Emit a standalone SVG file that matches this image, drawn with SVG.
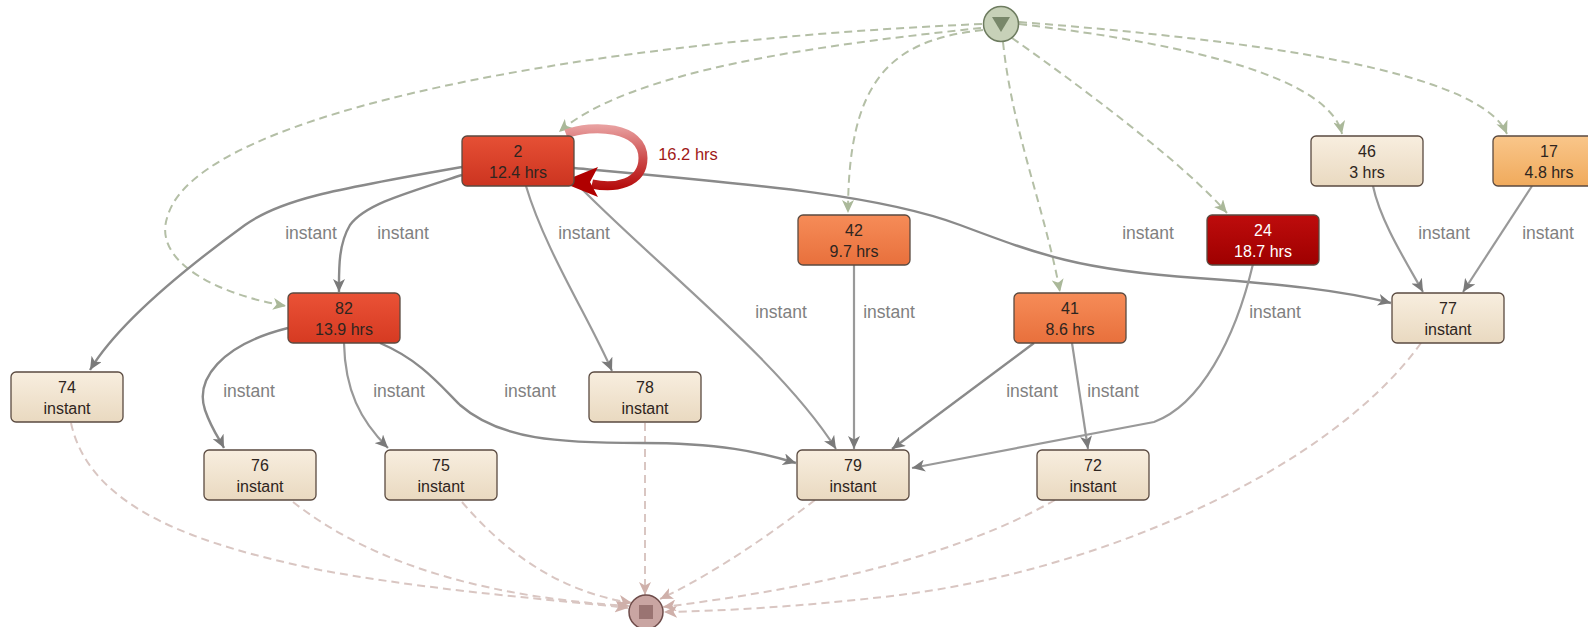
<svg xmlns="http://www.w3.org/2000/svg" width="1588" height="627" viewBox="0 0 1588 627">
<style>
.node rect{stroke:#5a4a40;stroke-width:1.3}
.node text{font-family:"Liberation Sans",Arial,sans-serif;font-size:16px;text-anchor:middle;fill:#2e2520}
.lbl{font-family:"Liberation Sans",Arial,sans-serif;font-size:17.5px;text-anchor:middle;fill:#808080}
.e{fill:none;stroke:#999;stroke-width:2.2;marker-end:url(#ag)}
.ed{fill:none;stroke:#8a8a8a;stroke-width:2.4;marker-end:url(#ag)}
.es{fill:none;stroke:#b4bfa6;stroke-width:2;stroke-dasharray:8 5;marker-end:url(#as)}
.ee{fill:none;stroke:#d9c6c2;stroke-width:2;stroke-dasharray:8 5;marker-end:url(#ae)}
</style>
<defs>
<linearGradient id="gBeige" x1="0" y1="0" x2="0" y2="1"><stop offset="0" stop-color="#f8eedf"/><stop offset="1" stop-color="#e9d9c0"/></linearGradient>
<linearGradient id="gRed" x1="0" y1="0" x2="0" y2="1"><stop offset="0" stop-color="#e65035"/><stop offset="1" stop-color="#cc3420"/></linearGradient>
<linearGradient id="gRed2" x1="0" y1="0" x2="0" y2="1"><stop offset="0" stop-color="#ea5236"/><stop offset="1" stop-color="#d63a22"/></linearGradient>
<linearGradient id="gDark" x1="0" y1="0" x2="0" y2="1"><stop offset="0" stop-color="#be0c0c"/><stop offset="1" stop-color="#9e0000"/></linearGradient>
<linearGradient id="gOr" x1="0" y1="0" x2="0" y2="1"><stop offset="0" stop-color="#f68c58"/><stop offset="1" stop-color="#e8703c"/></linearGradient>
<linearGradient id="gLo" x1="0" y1="0" x2="0" y2="1"><stop offset="0" stop-color="#f9c68a"/><stop offset="1" stop-color="#f0aa5c"/></linearGradient>
<linearGradient id="gLoop" gradientUnits="userSpaceOnUse" x1="0" y1="126" x2="0" y2="194"><stop offset="0" stop-color="#e8a0a0"/><stop offset="0.5" stop-color="#cc4848"/><stop offset="1" stop-color="#b00000"/></linearGradient>
<marker id="ag" markerUnits="userSpaceOnUse" markerWidth="14" markerHeight="12" refX="13" refY="6" orient="auto"><path d="M0,0 L13,6 L0,12 L3.5,6 z" fill="#7a7a7a"/></marker>
<marker id="as" markerUnits="userSpaceOnUse" markerWidth="14" markerHeight="12" refX="13" refY="6" orient="auto"><path d="M0,0 L13,6 L0,12 L3.5,6 z" fill="#aab899"/></marker>
<marker id="ae" markerUnits="userSpaceOnUse" markerWidth="14" markerHeight="12" refX="13" refY="6" orient="auto"><path d="M0,0 L13,6 L0,12 L3.5,6 z" fill="#cfb0aa"/></marker>
</defs>
<rect width="1588" height="627" fill="#ffffff"/>

<g id="connectors">
<!-- start edges -->
<path class="es" d="M981,28 C820,45 630,70 559,132"/>
<path class="es" d="M982,24 C600,40 200,110 168,215 C150,262 220,295 286,306"/>
<path class="es" d="M983,30 C890,40 848,80 848,213"/>
<path class="es" d="M1003,42 C1012,130 1045,210 1060,292"/>
<path class="es" d="M1012,38 C1100,100 1190,170 1227,213"/>
<path class="es" d="M1019,24 C1200,45 1330,80 1342,134"/>
<path class="es" d="M1019,22 C1250,40 1480,70 1507,134"/>
<!-- end edges -->
<path class="ee" d="M71,423 C90,510 200,545 320,570 C440,592 560,600 628,608"/>
<path class="ee" d="M293,502 C380,570 500,598 629,606"/>
<path class="ee" d="M462,502 C520,570 580,595 632,603"/>
<path class="ee" d="M645,423 L645,595"/>
<path class="ee" d="M815,500 C750,550 700,580 660,599"/>
<path class="ee" d="M1055,500 C950,560 800,590 663,607"/>
<path class="ee" d="M1421,343 C1330,470 1100,570 900,595 C800,607 720,611 664,612"/>
<!-- solid edges -->
<path class="ed" d="M462,167 C330,190 280,200 245,225 C190,265 120,320 90,370"/>
<path class="ed" d="M462,175 C400,195 365,205 350,225 C338,245 339,270 339,292"/>
<path class="e" d="M526,186 C545,250 590,320 612,371"/>
<path class="e" d="M574,181 C650,260 780,360 836,449"/>
<path class="ed" d="M574,168 C760,185 880,195 960,225 C1040,255 1080,270 1197,278 C1280,284 1340,290 1391,303"/>
<path class="e" d="M854,264 L854,449"/>
<path class="ed" d="M1034,343 L892,449"/>
<path class="e" d="M1072,343 L1088,449"/>
<path class="e" d="M1253,264 C1235,340 1200,405 1154,422 L912,468"/>
<path class="ed" d="M288,328 C220,345 195,380 205,410 C212,430 220,440 224,448"/>
<path class="e" d="M344,343 C345,390 360,420 388,448"/>
<path class="ed" d="M380,343 C420,360 440,385 460,405 C500,440 560,443 640,443 C720,443 760,452 796,463"/>
<path class="e" d="M1373,186 C1380,220 1405,260 1423,292"/>
<path class="e" d="M1532,186 L1463,292"/>
<!-- self loop on 2 -->
<path d="M566,134 C592,124 643,126 643,158 C643,184 614,189 592,184" fill="none" stroke="url(#gLoop)" stroke-width="9"/>
<path d="M561,182 L598,167 L590,182 L598,197 z" fill="#b00000"/>
<!-- labels -->
<text class="lbl" x="311" y="239">instant</text>
<text class="lbl" x="403" y="239">instant</text>
<text class="lbl" x="584" y="239">instant</text>
<text class="lbl" x="781" y="318">instant</text>
<text class="lbl" x="889" y="318">instant</text>
<text class="lbl" x="1148" y="239">instant</text>
<text class="lbl" x="1275" y="318">instant</text>
<text class="lbl" x="1444" y="239">instant</text>
<text class="lbl" x="1548" y="239">instant</text>
<text class="lbl" x="249" y="397">instant</text>
<text class="lbl" x="399" y="397">instant</text>
<text class="lbl" x="530" y="397">instant</text>
<text class="lbl" x="1032" y="397">instant</text>
<text class="lbl" x="1113" y="397">instant</text>
<text x="688" y="160" style="font-family:'Liberation Sans',Arial,sans-serif;font-size:16.5px;text-anchor:middle;fill:#a01818">16.2 hrs</text>
</g>

<g id="start"><circle cx="1001" cy="24" r="17.5" fill="#c7d1b8" stroke="#6e7c60" stroke-width="1.5"/><path d="M992,17 L1010,17 L1001,32 z" fill="#78876a"/></g>
<g id="end"><circle cx="646" cy="612" r="17" fill="#c9a5a2" stroke="#6e4c4a" stroke-width="1.5"/><rect x="639" y="605" width="14" height="14" fill="#9a7472"/></g>

<g id="n2" class="node"><rect x="462" y="136" width="112" height="50" rx="5" fill="url(#gRed)"/><text x="518" y="157">2</text><text x="518" y="178">12.4 hrs</text></g>
<g id="n46" class="node"><rect x="1311" y="136" width="112" height="50" rx="5" fill="url(#gBeige)"/><text x="1367" y="157">46</text><text x="1367" y="178">3 hrs</text></g>
<g id="n17" class="node"><rect x="1493" y="136" width="112" height="50" rx="5" fill="url(#gLo)"/><text x="1549" y="157">17</text><text x="1549" y="178">4.8 hrs</text></g>
<g id="n42" class="node"><rect x="798" y="215" width="112" height="50" rx="5" fill="url(#gOr)"/><text x="854" y="236">42</text><text x="854" y="257">9.7 hrs</text></g>
<g id="n24" class="node"><rect x="1207" y="215" width="112" height="50" rx="5" fill="url(#gDark)"/><text x="1263" y="236" style="fill:#ffffff">24</text><text x="1263" y="257" style="fill:#ffffff">18.7 hrs</text></g>
<g id="n82" class="node"><rect x="288" y="293" width="112" height="50" rx="5" fill="url(#gRed2)"/><text x="344" y="314">82</text><text x="344" y="335">13.9 hrs</text></g>
<g id="n41" class="node"><rect x="1014" y="293" width="112" height="50" rx="5" fill="url(#gOr)"/><text x="1070" y="314">41</text><text x="1070" y="335">8.6 hrs</text></g>
<g id="n77" class="node"><rect x="1392" y="293" width="112" height="50" rx="5" fill="url(#gBeige)"/><text x="1448" y="314">77</text><text x="1448" y="335">instant</text></g>
<g id="n74" class="node"><rect x="11" y="372" width="112" height="50" rx="5" fill="url(#gBeige)"/><text x="67" y="393">74</text><text x="67" y="414">instant</text></g>
<g id="n78" class="node"><rect x="589" y="372" width="112" height="50" rx="5" fill="url(#gBeige)"/><text x="645" y="393">78</text><text x="645" y="414">instant</text></g>
<g id="n76" class="node"><rect x="204" y="450" width="112" height="50" rx="5" fill="url(#gBeige)"/><text x="260" y="471">76</text><text x="260" y="492">instant</text></g>
<g id="n75" class="node"><rect x="385" y="450" width="112" height="50" rx="5" fill="url(#gBeige)"/><text x="441" y="471">75</text><text x="441" y="492">instant</text></g>
<g id="n79" class="node"><rect x="797" y="450" width="112" height="50" rx="5" fill="url(#gBeige)"/><text x="853" y="471">79</text><text x="853" y="492">instant</text></g>
<g id="n72" class="node"><rect x="1037" y="450" width="112" height="50" rx="5" fill="url(#gBeige)"/><text x="1093" y="471">72</text><text x="1093" y="492">instant</text></g>
</svg>
